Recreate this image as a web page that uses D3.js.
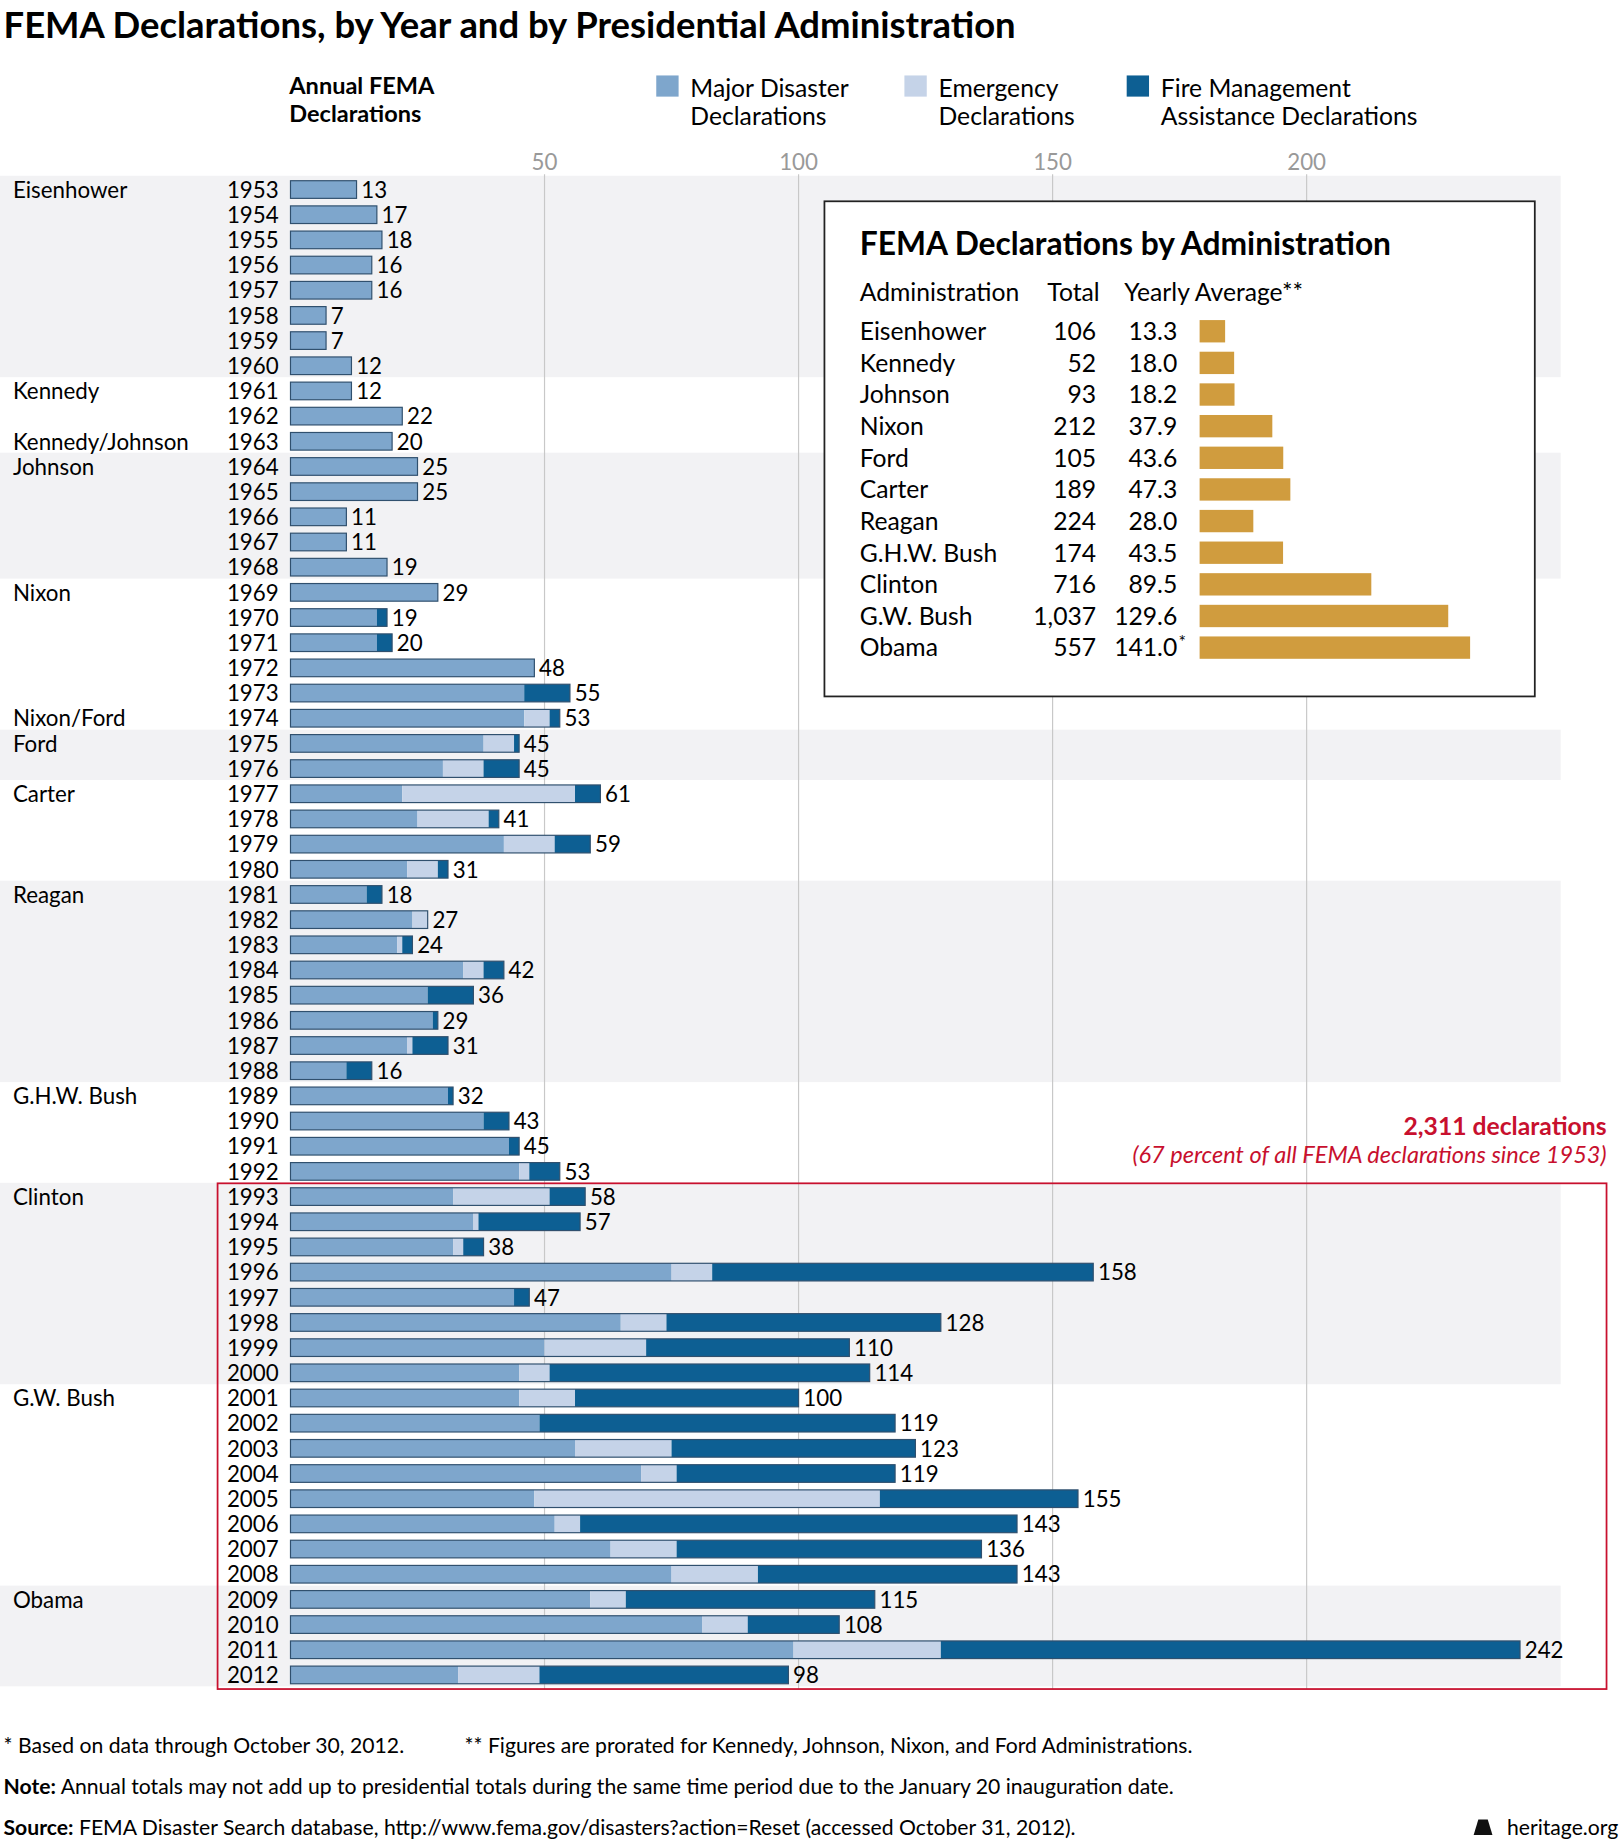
<!DOCTYPE html>
<html><head><meta charset="utf-8">
<script src="https://cdn.jsdelivr.net/npm/d3@7"></script>
<style>body{margin:0;background:#fff}text{font-family:Lato,"Open Sans",sans-serif}</style>
</head><body>
<script>
// data
var years = d3.range(1953, 2013)
var major = [13,17,18,16,16,7,7,12,12,22,20,25,25,11,11,19,29,17,17,48,46,46,38,30,22,25,42,23,15,24,21,34,27,28,23,11,31,38,43,45,32,36,32,75,44,65,50,45,45,49,56,69,48,52,63,75,59,81,99,33]
var emergency = [0,0,0,0,0,0,0,0,0,0,0,0,0,0,0,0,0,0,0,0,0,5,6,8,34,14,10,6,0,3,1,4,0,0,1,0,0,0,0,2,19,1,2,8,0,9,20,6,11,0,19,7,68,5,13,17,7,9,29,16]
var fire = [0,0,0,0,0,0,0,0,0,0,0,0,0,0,0,0,0,2,3,0,9,2,1,7,5,2,7,2,3,0,2,4,9,1,7,5,1,5,2,6,7,20,4,75,3,54,40,63,44,70,48,43,39,86,60,51,49,18,114,49]
var totals = [13,17,18,16,16,7,7,12,12,22,20,25,25,11,11,19,29,19,20,48,55,53,45,45,61,41,59,31,18,27,24,42,36,29,31,16,32,43,45,53,58,57,38,158,47,128,110,114,100,119,123,119,155,143,136,143,115,108,242,98]
var adminLabels = [[1953,"Eisenhower"],[1961,"Kennedy"],[1963,"Kennedy/Johnson"],[1964,"Johnson"],[1969,"Nixon"],[1974,"Nixon/Ford"],[1975,"Ford"],[1977,"Carter"],[1981,"Reagan"],[1989,"G.H.W. Bush"],[1993,"Clinton"],[2001,"G.W. Bush"],[2009,"Obama"]]
var shaded = [[1953,1960],[1964,1968],[1975,1976],[1981,1988],[1993,2000],[2009,2012]]
var ticks = [50,100,150,200]
var admins = ["Eisenhower","Kennedy","Johnson","Nixon","Ford","Carter","Reagan","G.H.W. Bush","Clinton","G.W. Bush","Obama"]
var adminTotal = ["106","52","93","212","105","189","224","174","716","1,037","557"]
var adminAvg = [13.3,18.0,18.2,37.9,43.6,47.3,28.0,43.5,89.5,129.6,141.0]

var svg = d3.select("body").append("svg").attr("width",1623).attr("height",1848).attr("viewBox","0 0 1380 1571")
var x = d3.scaleLinear().domain([0,250]).range([247,1327])
var y = d3.scalePoint().domain(years).range([160,1423])
var step = y.step()

svg.append("text").attr("x",3).attr("y",32).attr("font-size",31).attr("font-weight",700).text("FEMA Declarations, by Year and by Presidential Administration")

// shaded bands
shaded.forEach(function(s){
  svg.append("rect").attr("x",0).attr("width",1327).attr("y",y(s[0])-step/2).attr("height",y(s[1])-y(s[0])+step).attr("fill","#f2f2f4")
})
// grid
ticks.forEach(function(t){
  svg.append("line").attr("x1",x(t)).attr("x2",x(t)).attr("y1",148).attr("y2",1436).attr("stroke","#c8c8c8")
  svg.append("text").attr("x",x(t)).attr("y",144).attr("text-anchor","middle").attr("font-size",19).attr("fill","#999").text(t)
})

// legend
svg.append("text").attr("x",246).attr("y",80).attr("font-size",20).attr("font-weight",700).selectAll("tspan").data(["Annual FEMA","Declarations"]).join("tspan").attr("x",246).attr("dy",function(d,i){return i?24:0}).text(function(d){return d})
var leg = [["#7ea6cc","Major Disaster","Declarations",558],["#c5d3e8","Emergency","Declarations",769],["#0d5f93","Fire Management","Assistance Declarations",958]]
leg.forEach(function(l){
  svg.append("rect").attr("x",l[3]).attr("y",64).attr("width",19).attr("height",18).attr("fill",l[0])
  svg.append("text").attr("x",l[3]+29).attr("y",82).attr("font-size",21).selectAll("tspan").data([l[1],l[2]]).join("tspan").attr("x",l[3]+29).attr("dy",function(d,i){return i?24:0}).text(function(d){return d})
})

// bars
var bh = 15
var g = svg.append("g")
years.forEach(function(yr,i){
  var yy = y(yr)-bh/2+1
  var a = major[i], b = emergency[i], c = fire[i]
  g.append("rect").attr("x",x(0)).attr("y",yy).attr("width",x(a)-x(0)).attr("height",bh).attr("fill","#7ea6cc")
  if(b) g.append("rect").attr("x",x(a)).attr("y",yy).attr("width",x(a+b)-x(a)).attr("height",bh).attr("fill","#c5d3e8")
  if(c) g.append("rect").attr("x",x(a+b)).attr("y",yy).attr("width",x(a+b+c)-x(a+b)).attr("height",bh).attr("fill","#0d5f93")
  g.append("rect").attr("x",x(0)).attr("y",yy).attr("width",x(a+b+c)-x(0)).attr("height",bh).attr("fill","none").attr("stroke","#30506e").attr("stroke-width",1)
  g.append("text").attr("x",x(a+b+c)+4).attr("y",y(yr)+8).attr("font-size",19).text(totals[i])
  g.append("text").attr("x",237).attr("y",y(yr)+8).attr("text-anchor","end").attr("font-size",19).text(yr)
})
adminLabels.forEach(function(a){
  svg.append("text").attr("x",11).attr("y",y(a[0])+8).attr("font-size",19).text(a[1])
})

// red box
svg.append("rect").attr("x",185).attr("y",1006).attr("width",1181).attr("height",430).attr("fill","none").attr("stroke","#c8102e").attr("stroke-width",1.5)
svg.append("text").attr("x",1366).attr("y",965).attr("text-anchor","end").attr("font-size",21).attr("font-weight",700).attr("fill","#c8102e").text("2,311 declarations")
svg.append("text").attr("x",1366).attr("y",989).attr("text-anchor","end").attr("font-size",20).attr("font-style","italic").attr("fill","#c8102e").text("(67 percent of all FEMA declarations since 1953)")

// inset
var ins = svg.append("g")
ins.append("rect").attr("x",701).attr("y",171).attr("width",604).attr("height",421).attr("fill","#fff").attr("stroke","#222").attr("stroke-width",1.5)
ins.append("text").attr("x",731).attr("y",217).attr("font-size",27).attr("font-weight",700).text("FEMA Declarations by Administration")
ins.append("text").attr("x",731).attr("y",256).attr("font-size",21).text("Administration")
ins.append("text").attr("x",935).attr("y",256).attr("font-size",21).attr("text-anchor","end").text("Total")
ins.append("text").attr("x",956).attr("y",256).attr("font-size",21).text("Yearly Average**")
var ax = d3.scaleLinear().domain([0,141]).range([1020,1250])
admins.forEach(function(a,i){
  var yy = 281+i*26.9
  ins.append("text").attr("x",731).attr("y",yy+8).attr("font-size",21).text(a)
  ins.append("text").attr("x",932).attr("y",yy+8).attr("font-size",21).attr("text-anchor","end").text(adminTotal[i])
  ins.append("text").attr("x",1001).attr("y",yy+8).attr("font-size",21).attr("text-anchor","end").text(adminAvg[i].toFixed(1))
  ins.append("rect").attr("x",ax(0)).attr("y",yy-9).attr("width",ax(adminAvg[i])-ax(0)).attr("height",19).attr("fill","#d09c3e")
})
ins.append("text").attr("x",1002).attr("y",551).attr("font-size",15).text("*")

// footnotes
svg.append("text").attr("x",3).attr("y",1490).attr("font-size",18).text("* Based on data through October 30, 2012.")
svg.append("text").attr("x",395).attr("y",1490).attr("font-size",18).text("** Figures are prorated for Kennedy, Johnson, Nixon, and Ford Administrations.")
var n = svg.append("text").attr("x",3).attr("y",1525).attr("font-size",18)
n.append("tspan").attr("font-weight",700).text("Note:")
n.append("tspan").text(" Annual totals may not add up to presidential totals during the same time period due to the January 20 inauguration date.")
var s = svg.append("text").attr("x",3).attr("y",1560).attr("font-size",18)
s.append("tspan").attr("font-weight",700).text("Source:")
s.append("tspan").text(" FEMA Disaster Search database, http://www.fema.gov/disasters?action=Reset (accessed October 31, 2012).")
svg.append("text").attr("x",1376).attr("y",1560).attr("text-anchor","end").attr("font-size",18).text("heritage.org")
svg.append("path").attr("d","M1253,1560 l4,-13 h8 l4,13 z").attr("fill","#111")
</script>
</body></html>
